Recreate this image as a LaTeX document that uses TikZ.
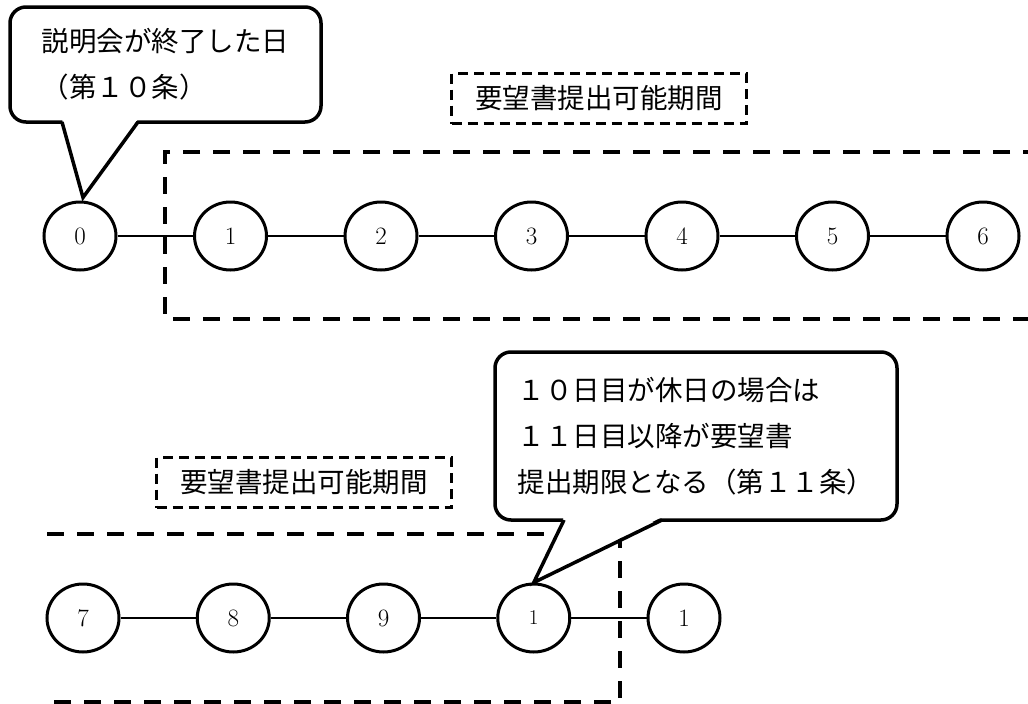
\documentclass[tikz,border=0pt]{standalone}
\usepackage{fontspec}
\usepackage{tikz}
\usetikzlibrary{shapes.geometric}
\newfontfamily\jpfont{Noto Sans CJK JP}

\begin{document}
\begin{tikzpicture}[x=1pt, y=-1pt,
    day/.style={ellipse, draw, line width=3pt, fill=white, minimum width=72pt, minimum height=68pt, inner sep=0pt, font=\fontsize{25}{25}\selectfont},
    link/.style={line width=2pt},
    period/.style={line width=4pt, dash pattern=on 17pt off 13pt},
    periodlabel/.style={draw, line width=2.5pt, dash pattern=on 10pt off 6pt, minimum width=295pt, minimum height=50pt, inner sep=0pt, font=\jpfont\fontsize{27.5}{27.5}\selectfont},
    notebox/.style={draw, line width=3.5pt, fill=white, rounded corners=16pt, align=left, inner sep=0pt, font=\jpfont\fontsize{27.5}{46}\selectfont},
    noteline/.style={line width=3.5pt, line join=miter}]
  \useasboundingbox (0,0) rectangle (1028,704);
  % Periods
  \draw[period] (1040,152) -- (165,152) -- (165,319) -- (1040,319);
  \draw[period] (47,534) -- (620,534) -- (620,702) -- (47,702);
  \node[periodlabel] (lab1) at (599,98.5) {要望書提出可能期間};
  \node[periodlabel] (lab2) at (304,482.5) {要望書提出可能期間};
  % Days
  \foreach \i in {0,...,6} {
    \node[day] (d\i) at ({80+150.5*\i}, 236) {\i};
  }
  \foreach \i/\t in {7/7, 8/8, 9/9, 10/{\fontsize{21}{21}\selectfont 1}, 11/1} {
    \node[day] (d\i) at ({83+150.25*(\i-7)}, 618) {\t};
  }
  % Edges
  \draw[link] (d0)--(d1) (d1)--(d2) (d2)--(d3) (d3)--(d4) (d4)--(d5) (d5)--(d6);
  \draw[link] (d7)--(d8) (d8)--(d9) (d9)--(d10) (d10)--(d11);
  % Callouts
  \node[notebox, minimum width=311pt, minimum height=115pt] (note1) at (165.5,64.5) {説明会が終了した日\\（第１０条）};
  \fill[white] (62,119) -- (138,119) -- ([xshift=3pt, yshift=3pt]d0.north) -- cycle;
  \draw[noteline] (62,122) -- ([xshift=3pt, yshift=3pt]d0.north) -- (138,122);
  \node[notebox, minimum width=402pt, minimum height=168pt] (note2) at (696,436) {１０日目が休日の場合は\\１１日目以降が要望書\\提出期限となる（第１１条）};
  \fill[white] (564,517) -- (662,517) -- (d10.north) -- cycle;
  \draw[noteline] (564,520) -- (d10.north) -- (662,520);
\end{tikzpicture}
\end{document}
